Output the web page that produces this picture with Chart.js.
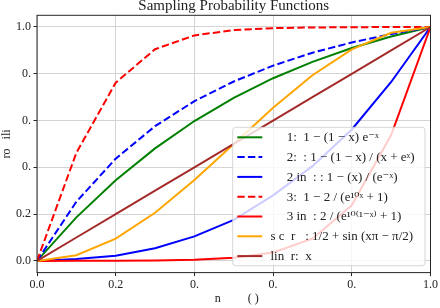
<!DOCTYPE html>
<html>
<head>
<meta charset="utf-8">
<script src="https://cdn.jsdelivr.net/npm/chart.js@4.4.1/dist/chart.umd.min.js"></script>
<style>
  html, body { margin: 0; padding: 0; background: #ffffff; }
  #c { display: block; }
</style>
</head>
<body>
<canvas id="c" width="440" height="308"></canvas>
<script>
// ---- data ----
const xValues = [0, 0.1, 0.2, 0.3, 0.4, 0.5, 0.6, 0.7, 0.8, 0.9, 1.0];
const scheme1 = [0, 0.186, 0.345, 0.481, 0.598, 0.697, 0.781, 0.851, 0.910, 0.959, 1.0];
const scheme2 = [0, 0.253, 0.437, 0.576, 0.683, 0.767, 0.835, 0.890, 0.934, 0.970, 1.0];
const scheme2inv = [0, 0.008, 0.022, 0.054, 0.105, 0.175, 0.28, 0.405, 0.562, 0.765, 1.0];
const scheme3 = [0, 0.462, 0.762, 0.905, 0.964, 0.987, 0.995, 0.998, 0.999, 1.0, 1.0];
const scheme3inv = [0.0001, 0.0003, 0.0007, 0.0018, 0.005, 0.0134, 0.036, 0.095, 0.238, 0.538, 1.0];
const sinusoidal = [0, 0.0245, 0.0955, 0.206, 0.3455, 0.5, 0.6545, 0.794, 0.9045, 0.9755, 1.0];
const linear = [0, 0.1, 0.2, 0.3, 0.4, 0.5, 0.6, 0.7, 0.8, 0.9, 1.0];

const seriesLabels = [
  "     1:  1 − (1 − x) e⁻ˣ",
  "     2:  : 1 − (1 − x) / (x + eˣ)",
  "     2 in  : : 1 − (x) / (e⁻ˣ)",
  "     3:  1 − 2 / (e¹⁰ˣ + 1)",
  "     3 in  : 2 / (e¹⁰⁽¹⁻ˣ⁾ + 1)",
  "s c  r   : 1/2 + sin (xπ − π/2)",
  "lin  r:  x"
];
const seriesValues = [scheme1, scheme2, scheme2inv, scheme3, scheme3inv, sinusoidal, linear];
const seriesColors = ["#008000", "#0000ff", "#0000ff", "#ff0000", "#ff0000", "#ffa500", "#a52a2a"];
const seriesDashed = [false, true, false, true, false, false, false];

const xTickValues = [0, 0.2, 0.4, 0.6, 0.8, 1.0];
const xTickLabels = ["0.0", "0.2", "0.", "0.", "0.", "1.0"];
const yTickValues = [0, 0.2, 0.4, 0.6, 0.8, 1.0];
const yTickLabels = ["0.0", "0.2", "0.", "0.", "0.", "1.0"];

const chartTitle = "Sampling Probability Functions";
const xTitle = "  n         ( )";
const yTitle = "ro   ili";

// ---- build ----
const SERIF = "'Liberation Serif', 'DejaVu Serif', serif";
const TXT = "#222222";

const datasets = seriesValues.map((vals, i) => ({
  label: seriesLabels[i],
  data: xValues.map((x, j) => ({ x: x, y: vals[j] })),
  borderColor: seriesColors[i],
  backgroundColor: seriesColors[i],
  borderWidth: 2,
  borderDash: seriesDashed[i] ? [7.4, 3.2] : [],
  pointRadius: 0,
  tension: 0,
  fill: false,
  order: seriesValues.length - i
}));

const decor = {
  id: "decor",
  beforeDraw(chart) {
    const ctx = chart.ctx;
    ctx.save();
    ctx.fillStyle = "#ffffff";
    ctx.fillRect(0, 0, chart.width, chart.height);
    ctx.restore();
  },
  afterDatasetsDraw(chart) {
    const ctx = chart.ctx;
    const a = chart.chartArea;
    ctx.save();
    // frame (spines)
    ctx.strokeStyle = "#262626";
    ctx.lineWidth = 1;
    ctx.setLineDash([]);
    ctx.strokeRect(a.left, a.top, a.right - a.left, a.bottom - a.top);

    // legend
    const bx = 232.7, by = 127.3, bw = 192.3, bh = 138.4, r = 3;
    ctx.beginPath();
    ctx.moveTo(bx + r, by);
    ctx.lineTo(bx + bw - r, by);
    ctx.quadraticCurveTo(bx + bw, by, bx + bw, by + r);
    ctx.lineTo(bx + bw, by + bh - r);
    ctx.quadraticCurveTo(bx + bw, by + bh, bx + bw - r, by + bh);
    ctx.lineTo(bx + r, by + bh);
    ctx.quadraticCurveTo(bx, by + bh, bx, by + bh - r);
    ctx.lineTo(bx, by + r);
    ctx.quadraticCurveTo(bx, by, bx + r, by);
    ctx.closePath();
    ctx.fillStyle = "rgba(255,255,255,0.8)";
    ctx.fill();
    ctx.strokeStyle = "rgba(204,204,204,0.8)";
    ctx.lineWidth = 1;
    ctx.stroke();

    ctx.font = "13px " + SERIF;
    ctx.textBaseline = "middle";
    ctx.textAlign = "left";
    chart.data.datasets.forEach((ds, i) => {
      const y = 137.3 + i * 19.8;
      ctx.strokeStyle = ds.borderColor;
      ctx.lineWidth = 2;
      ctx.setLineDash(ds.borderDash || []);
      ctx.beginPath();
      ctx.moveTo(237.3, y);
      ctx.lineTo(262.3, y);
      ctx.stroke();
      ctx.setLineDash([]);
      ctx.fillStyle = TXT;
      ctx.fillText(ds.label, 270.5, y + 0.5);
    });
    ctx.restore();
  },
  afterDraw(chart) {
    const ctx = chart.ctx;
    const a = chart.chartArea;
    ctx.save();
    ctx.font = "15px " + SERIF;
    ctx.fillStyle = TXT;
    ctx.textAlign = "center";
    ctx.textBaseline = "alphabetic";
    ctx.fillText(chartTitle, (a.left + a.right) / 2, 9.5);
    ctx.restore();
  }
};

new Chart(document.getElementById("c"), {
  type: "line",
  data: { datasets: datasets },
  plugins: [decor],
  options: {
    responsive: false,
    animation: false,
    devicePixelRatio: 1,
    layout: { padding: { top: 15.3, right: 8, left: 0, bottom: 0 } },
    plugins: {
      legend: { display: false },
      title: { display: false },
      tooltip: { enabled: false }
    },
    scales: {
      x: {
        type: "linear",
        min: 0, max: 1,
        afterBuildTicks: s => { s.ticks = xTickValues.map(v => ({ value: v })); },
        afterFit: s => { s.height = 35.4; },
        ticks: {
          callback: (v, i) => xTickLabels[i],
          font: { family: SERIF, size: 12 },
          color: TXT,
          padding: 2,
          maxRotation: 0,
          autoSkip: false
        },
        grid: { color: "#d4d4d4", lineWidth: 1, tickColor: "#262626", tickLength: 3.5, drawTicks: true },
        border: { display: false },
        title: {
          display: true, text: xTitle, color: TXT,
          font: { family: SERIF, size: 12 },
          padding: { top: 0, bottom: 2.4 }
        }
      },
      y: {
        type: "linear",
        min: -0.05, max: 1.05,
        afterBuildTicks: s => { s.ticks = yTickValues.map(v => ({ value: v })); },
        afterFit: s => { s.width = 37; },
        ticks: {
          callback: (v, i) => yTickLabels[i],
          font: { family: SERIF, size: 12 },
          color: TXT,
          padding: 2.5,
          autoSkip: false
        },
        grid: { color: "#d4d4d4", lineWidth: 1, tickColor: "#262626", tickLength: 3.5, drawTicks: true },
        border: { display: false },
        title: {
          display: true, text: yTitle, color: TXT,
          font: { family: SERIF, size: 12 },
          padding: { top: 0, bottom: 0 }
        }
      }
    }
  }
});
</script>
</body>
</html>
